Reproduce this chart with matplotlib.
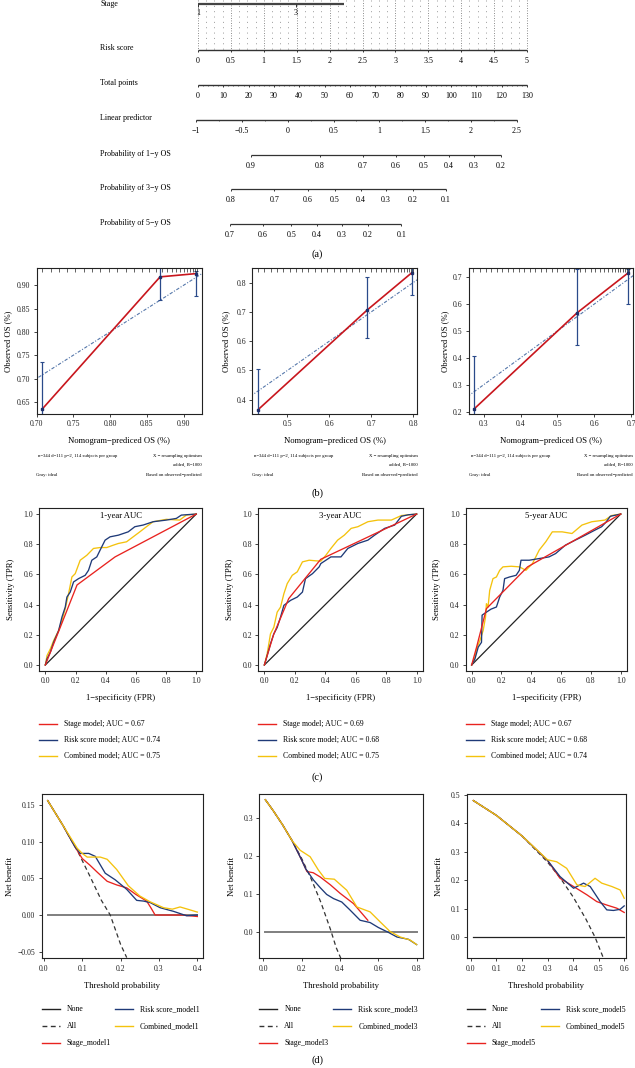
import numpy as np
import matplotlib
matplotlib.use('Agg')
import matplotlib.pyplot as plt
from matplotlib.lines import Line2D

plt.rcParams['font.family'] = ['Liberation Serif', 'DejaVu Serif']

W, H = 635, 1068

# ---------------- data ----------------
# (a) nomogram, positions on the total-points scale
stage_labels = ['1', '3']
stage_pts = [0, 38.7]
stage_end = 57.7
risk_ticks = [0, 0.5, 1, 1.5, 2, 2.5, 3, 3.5, 4, 4.5, 5]
risk_pts_per_unit = 26.0
total_ticks = [0, 10, 20, 30, 40, 50, 60, 70, 80, 90, 100, 110, 120, 130]
lp_ticks = [-1, -0.5, 0, 0.5, 1, 1.5, 2, 2.5]
lp_pts_range = (-0.8, 126.0)
prob1_ticks = [0.9, 0.8, 0.7, 0.6, 0.5, 0.4, 0.3, 0.2]
prob1_pts = [20.9, 48.2, 65.2, 78.2, 89.3, 99.2, 109.1, 119.7]
prob3_ticks = [0.8, 0.7, 0.6, 0.5, 0.4, 0.3, 0.2, 0.1]
prob3_pts = [13.0, 30.2, 43.5, 54.1, 64.4, 74.3, 84.8, 98.0]
prob5_ticks = [0.7, 0.6, 0.5, 0.4, 0.3, 0.2, 0.1]
prob5_pts = [12.6, 25.7, 36.9, 46.9, 56.9, 67.2, 80.4]

# (b) calibration
cal_pred = [[0.708, 0.868, 0.917], [0.43, 0.69, 0.797], [0.274, 0.553, 0.691]]
cal_obs = [[0.635, 0.918, 0.925], [0.366, 0.706, 0.834], [0.21, 0.567, 0.715]]
cal_lo = [[0.62, 0.868, 0.877], [0.34, 0.61, 0.757], [0.185, 0.447, 0.60]]
cal_hi = [[0.736, 0.95, 0.93], [0.505, 0.82, 0.86], [0.408, 0.73, 0.73]]
rug1 = [0.708, 0.72, 0.731, 0.742, 0.753, 0.764, 0.776, 0.787, 0.798, 0.81, 0.821,
        0.832, 0.843, 0.853, 0.862, 0.87, 0.877, 0.884, 0.89, 0.895, 0.9, 0.905,
        0.909, 0.913, 0.916, 0.918]
rug2 = [0.43, 0.445, 0.46, 0.475, 0.49, 0.505, 0.52, 0.535, 0.55, 0.565, 0.58, 0.595,
        0.61, 0.625, 0.64, 0.655, 0.67, 0.685, 0.7, 0.712, 0.724, 0.735, 0.745, 0.755,
        0.763, 0.771, 0.778, 0.785, 0.79, 0.795, 0.8]
rug3 = [0.272, 0.29, 0.305, 0.32, 0.335, 0.35, 0.365, 0.38, 0.395, 0.41, 0.425, 0.44,
        0.455, 0.47, 0.485, 0.5, 0.515, 0.53, 0.545, 0.56, 0.575, 0.59, 0.603, 0.615,
        0.626, 0.637, 0.647, 0.656, 0.664, 0.671, 0.678, 0.684, 0.689, 0.694]

# (c) ROC
roc_titles = ['1-year AUC', '3-year AUC', '5-year AUC']
auc_values = [[0.67, 0.74, 0.75], [0.69, 0.68, 0.75], [0.67, 0.68, 0.74]]
model_names = ['Stage model', 'Risk score model', 'Combined model']

stage1_fpr = [0, 0.21, 0.462, 1]
stage1_tpr = [0, 0.53, 0.716, 1]
risk1_fpr = [0, 0.011, 0.033, 0.055, 0.088, 0.11, 0.132, 0.143, 0.165, 0.187, 0.22, 0.242,
             0.264, 0.286, 0.308, 0.341, 0.363, 0.396, 0.429, 0.484, 0.549, 0.593, 0.648,
             0.714, 0.802, 0.868, 0.901, 1]
risk1_tpr = [0, 0.04, 0.084, 0.151, 0.228, 0.317, 0.384, 0.45, 0.483, 0.55, 0.572, 0.583,
             0.594, 0.627, 0.694, 0.716, 0.761, 0.827, 0.849, 0.86, 0.882, 0.916, 0.927,
             0.949, 0.96, 0.971, 0.993, 1]
comb1_fpr = [0, 0.011, 0.033, 0.055, 0.088, 0.11, 0.132, 0.154, 0.176, 0.198, 0.231, 0.275,
             0.319, 0.363, 0.407, 0.451, 0.484, 0.538, 0.582, 0.626, 0.67, 0.714, 0.802,
             0.89, 0.934, 1]
comb1_tpr = [0, 0.062, 0.106, 0.162, 0.228, 0.295, 0.373, 0.472, 0.583, 0.605, 0.694, 0.727,
             0.772, 0.778, 0.778, 0.794, 0.805, 0.816, 0.849, 0.882, 0.916, 0.949, 0.965,
             0.96, 0.993, 1]

stage3_fpr = [0, 0.06, 0.16, 0.37, 1]
stage3_tpr = [0, 0.2, 0.44, 0.7, 1]
risk3_fpr = [0, 0.018, 0.04, 0.062, 0.084, 0.106, 0.128, 0.172, 0.216, 0.25, 0.27, 0.316,
             0.36, 0.371, 0.437, 0.503, 0.548, 0.614, 0.68, 0.724, 0.79, 0.856, 0.9, 0.945, 1]
risk3_tpr = [0, 0.062, 0.14, 0.206, 0.248, 0.317, 0.395, 0.428, 0.45, 0.483, 0.572, 0.605,
             0.65, 0.672, 0.716, 0.716, 0.772, 0.805, 0.827, 0.86, 0.905, 0.927, 0.985, 0.995, 1]
comb3_fpr = [0, 0.018, 0.04, 0.062, 0.084, 0.106, 0.128, 0.15, 0.183, 0.216, 0.25, 0.294,
             0.338, 0.371, 0.404, 0.437, 0.481, 0.525, 0.57, 0.614, 0.68, 0.746, 0.834, 0.9, 1]
comb3_tpr = [0, 0.073, 0.206, 0.25, 0.35, 0.383, 0.472, 0.539, 0.594, 0.617, 0.683, 0.694,
             0.69, 0.688, 0.727, 0.772, 0.827, 0.86, 0.905, 0.916, 0.949, 0.96, 0.96, 0.99, 1]

stage5_fpr = [0, 0.033, 0.099, 0.375, 1]
stage5_tpr = [0, 0.118, 0.373, 0.65, 1]
risk5_fpr = [0, 0.022, 0.044, 0.066, 0.07, 0.099, 0.13, 0.166, 0.188, 0.21, 0.221, 0.254,
             0.298, 0.32, 0.331, 0.386, 0.453, 0.519, 0.563, 0.629, 0.695, 0.762, 0.828,
             0.872, 0.9, 0.93, 1]
risk5_tpr = [0, 0.04, 0.118, 0.15, 0.33, 0.35, 0.37, 0.384, 0.45, 0.494, 0.572, 0.583,
             0.594, 0.627, 0.694, 0.694, 0.705, 0.716, 0.738, 0.794, 0.827, 0.86, 0.894,
             0.916, 0.945, 0.985, 1]
comb5_fpr = [0, 0.022, 0.033, 0.055, 0.077, 0.093, 0.099, 0.11, 0.121, 0.143, 0.166, 0.188,
             0.21, 0.265, 0.32, 0.364, 0.408, 0.453, 0.497, 0.541, 0.607, 0.673, 0.74, 0.806,
             0.894, 0.938, 1]
comb5_tpr = [0, 0.051, 0.106, 0.162, 0.228, 0.317, 0.406, 0.384, 0.494, 0.572, 0.583, 0.627,
             0.65, 0.654, 0.65, 0.627, 0.672, 0.761, 0.816, 0.882, 0.882, 0.871, 0.927, 0.949,
             0.96, 0.99, 1]

# (d) decision curves
dca_thr_max = [0.4, 0.8, 0.6]
all1_x = [0.01, 0.05, 0.09, 0.12, 0.15, 0.173, 0.2, 0.216]
all1_y = [0.156, 0.122, 0.085, 0.053, 0.02, 0.0, -0.04, -0.058]
stage1_x = [0.01, 0.05, 0.08, 0.1, 0.12, 0.14, 0.165, 0.19, 0.216, 0.24, 0.268, 0.28, 0.29, 0.32, 0.36, 0.4]
stage1_y = [0.156, 0.122, 0.094, 0.077, 0.068, 0.058, 0.046, 0.041, 0.037, 0.028, 0.019, 0.009, 0.0, 0.0, 0.0, -0.002]
riskd1_x = [0.01, 0.05, 0.08, 0.095, 0.117, 0.134, 0.16, 0.186, 0.216, 0.242, 0.26, 0.277, 0.303, 0.338, 0.372, 0.4]
riskd1_y = [0.156, 0.122, 0.094, 0.084, 0.084, 0.08, 0.057, 0.048, 0.035, 0.02, 0.019, 0.017, 0.01, 0.005, -0.001, 0.0]
combd1_x = [0.01, 0.05, 0.087, 0.1, 0.113, 0.13, 0.147, 0.165, 0.19, 0.22, 0.25, 0.277, 0.312, 0.335, 0.355, 0.381, 0.4]
combd1_y = [0.156, 0.122, 0.091, 0.084, 0.079, 0.079, 0.079, 0.076, 0.062, 0.04, 0.026, 0.018, 0.01, 0.008, 0.011, 0.007, 0.004]

all3_x = [0.01, 0.05, 0.1, 0.15, 0.2, 0.25, 0.3, 0.35, 0.38, 0.404]
all3_y = [0.349, 0.321, 0.283, 0.241, 0.194, 0.14, 0.079, 0.008, -0.04, -0.068]
stage3_x = [0.01, 0.05, 0.1, 0.15, 0.2, 0.227, 0.26, 0.296, 0.35, 0.4, 0.47, 0.545]
stage3_y = [0.349, 0.321, 0.283, 0.241, 0.19, 0.16, 0.157, 0.146, 0.125, 0.103, 0.076, 0.032]
riskd3_x = [0.01, 0.05, 0.1, 0.15, 0.2, 0.22, 0.261, 0.296, 0.33, 0.366, 0.409, 0.45, 0.505,
            0.557, 0.6, 0.653, 0.697, 0.757, 0.8]
riskd3_y = [0.349, 0.321, 0.283, 0.241, 0.19, 0.168, 0.138, 0.118, 0.1, 0.089, 0.08, 0.06,
            0.032, 0.026, 0.013, 0.0, -0.012, -0.018, -0.032]
combd3_x = [0.01, 0.05, 0.1, 0.15, 0.192, 0.244, 0.287, 0.32, 0.37, 0.435, 0.488, 0.557,
            0.609, 0.662, 0.714, 0.766, 0.8]
combd3_y = [0.349, 0.321, 0.283, 0.241, 0.216, 0.199, 0.164, 0.142, 0.14, 0.111, 0.067,
            0.054, 0.028, 0.002, -0.012, -0.02, -0.032]

all5_x = [0.01, 0.1, 0.2, 0.3, 0.35, 0.4, 0.45, 0.486, 0.519]
all5_y = [0.48, 0.428, 0.356, 0.264, 0.208, 0.142, 0.064, 0.0, -0.074]
stage5_x = [0.01, 0.1, 0.2, 0.3, 0.349, 0.402, 0.454, 0.493, 0.532, 0.571, 0.6]
stage5_y = [0.48, 0.428, 0.356, 0.27, 0.207, 0.178, 0.149, 0.125, 0.113, 0.102, 0.087]
riskd5_x = [0.01, 0.1, 0.2, 0.3, 0.349, 0.402, 0.441, 0.467, 0.506, 0.532, 0.558, 0.584, 0.6]
riskd5_y = [0.48, 0.428, 0.356, 0.27, 0.213, 0.172, 0.19, 0.178, 0.125, 0.096, 0.094, 0.098, 0.11]
combd5_x = [0.01, 0.1, 0.2, 0.3, 0.336, 0.375, 0.415, 0.447, 0.486, 0.512, 0.552, 0.584, 0.6]
combd5_y = [0.48, 0.428, 0.356, 0.272, 0.265, 0.242, 0.184, 0.178, 0.207, 0.19, 0.178, 0.166, 0.137]

RED = '#e8231f'
BLUE = '#1f3a78'
YEL = '#f4c20d'
AXC = '#333333'

fig = plt.figure(figsize=(W / 100, H / 100), dpi=100)


def box(l, r, t, b):
    return [l / W, 1 - b / H, (r - l) / W, (b - t) / H]


def ftext(x, y, s, **kw):
    fig.text(x / W, 1 - y / H, s, **kw)


def fline(x0, x1, y, **kw):
    fig.add_artist(Line2D([x0 / W, x1 / W], [1 - y / H, 1 - y / H],
                          transform=fig.transFigure, **kw))


def fmt(v):
    return ('%g' % v).replace('-', '\u2212')


# ---------------- (a) nomogram ----------------
def px2pts(px):
    return (px - 198) * 130 / 329


ax0 = fig.add_axes([0, 1 - 245 / H, 1, 245 / H])
ax0.set_xlim(px2pts(0), px2pts(635))
ax0.set_ylim(245, 0)
ax0.axis('off')

for v in np.arange(0, 5.001, 0.125):
    strong = abs(v * 2 - round(v * 2)) < 1e-6
    ax0.vlines(v * risk_pts_per_unit, 0, 50, color='#666666' if strong else '#9a9a9a',
               lw=0.6 if strong else 0.7, linestyle=(0, (1, 2)) if strong else (0, (1, 4.5)))

lab_x = px2pts(100)
fs_n = 5.8


def scale_row(y, pts, labels, minor=None, lw=1.0):
    ax0.plot([min(pts), max(pts)], [y, y], color=AXC, lw=lw, solid_capstyle='butt')
    ax0.vlines(pts, y, y + 2.2, color=AXC, lw=0.7)
    if minor is not None:
        ax0.vlines(minor, y, y + 1.4, color=AXC, lw=0.5)
    for p, l in zip(pts, labels):
        ax0.text(p, y + 11, l, ha='center', va='center', fontsize=fs_n)


# stage
ax0.plot([0, stage_end], [3.5, 3.5], color='#444444', lw=1.6, solid_capstyle='butt')
ax0.vlines(stage_pts, 3.5, 6.5, color=AXC, lw=0.7)
for p, l in zip(stage_pts, stage_labels):
    ax0.text(p, 13, l, ha='center', va='center', fontsize=fs_n)
ax0.text(lab_x, 4, 'Stage', ha='left', va='center', fontsize=fs_n)

risk_pts = [v * risk_pts_per_unit for v in risk_ticks]
scale_row(50, risk_pts, [fmt(v) for v in risk_ticks])
ax0.text(lab_x, 48, 'Risk score', ha='left', va='center', fontsize=fs_n)

scale_row(85, total_ticks, [fmt(v) for v in total_ticks], minor=np.arange(0, 130.1, 2))
ax0.text(lab_x, 83, 'Total points', ha='left', va='center', fontsize=fs_n)

lo, hi = lp_pts_range
lp_pts = [lo + (v - lp_ticks[0]) * (hi - lo) / (lp_ticks[-1] - lp_ticks[0]) for v in lp_ticks]
lp_minor = [lo + (v + 1) * (hi - lo) / 3.5 for v in np.arange(-1, 2.51, 0.25)]
scale_row(120, lp_pts, [fmt(v) for v in lp_ticks], minor=lp_minor)
ax0.text(lab_x, 118, 'Linear predictor', ha='left', va='center', fontsize=fs_n)

scale_row(155, prob1_pts, [fmt(v) for v in prob1_ticks], lw=0.9)
ax0.text(lab_x, 154, 'Probability of 1\u2212y OS', ha='left', va='center', fontsize=fs_n)
scale_row(189, prob3_pts, [fmt(v) for v in prob3_ticks], lw=0.9)
ax0.text(lab_x, 188, 'Probability of 3\u2212y OS', ha='left', va='center', fontsize=fs_n)
scale_row(224, prob5_pts, [fmt(v) for v in prob5_ticks], lw=0.9)
ax0.text(lab_x, 223, 'Probability of 5\u2212y OS', ha='left', va='center', fontsize=fs_n)

ftext(317, 254, '(a)', ha='center', va='center', fontsize=7.5)


def style(ax, fs=5.6):
    for s in ax.spines.values():
        s.set_linewidth(0.8)
        s.set_color('#222222')
    ax.tick_params(direction='out', length=2.5, width=0.6, labelsize=fs, pad=2,
                   colors='#222222')


# ---------------- (b) calibration ----------------
cal_boxes = [(36.5, 202, 268, 414), (252.3, 417.3, 268, 414), (469, 633, 268, 414)]
cal_xlim = [(0.70, 0.925), (0.416, 0.81), (0.26, 0.705)]
cal_ylim = [(0.624, 0.937), (0.351, 0.85), (0.191, 0.734)]
cal_xt = [np.arange(0.70, 0.91, 0.05), [0.5, 0.6, 0.7, 0.8], [0.3, 0.4, 0.5, 0.6, 0.7]]
cal_yt = [np.arange(0.65, 0.91, 0.05), [0.4, 0.5, 0.6, 0.7, 0.8], [0.2, 0.3, 0.4, 0.5, 0.6, 0.7]]
cal_fmt = ['%.2f', '%.1f', '%.1f']
rugs = [rug1, rug2, rug3]
cal_ylab_x = [8, 226, 445]

for i in range(3):
    l, r, t, b = cal_boxes[i]
    ax = fig.add_axes(box(l, r, t, b))
    ax.plot([0, 1], [0, 1], color='#5577aa', lw=0.8, linestyle=(0, (3, 1.5, 1, 1.5)))
    ax.plot(cal_pred[i], cal_obs[i], color='#c8161d', lw=1.2)
    ax.vlines(cal_pred[i], cal_lo[i], cal_hi[i], color='#2a4a8a', lw=0.9)
    for x, lo_, hi_ in zip(cal_pred[i], cal_lo[i], cal_hi[i]):
        ax.plot([x], [lo_], marker='_', ms=3, color='#2a4a8a', mew=0.8)
        ax.plot([x], [hi_], marker='_', ms=3, color='#2a4a8a', mew=0.8)
    ax.plot(cal_pred[i], cal_obs[i], 's', ms=1.8, color='#1f2f6a')
    ax.vlines(rugs[i], 0.97, 1.0, color='#222222', lw=0.5, transform=ax.get_xaxis_transform())
    ax.set_xlim(cal_xlim[i])
    ax.set_ylim(cal_ylim[i])
    ax.set_xticks(cal_xt[i])
    ax.set_yticks(cal_yt[i])
    ax.set_xticklabels([cal_fmt[i] % v for v in cal_xt[i]])
    ax.set_yticklabels([cal_fmt[i] % v for v in cal_yt[i]])
    style(ax)
    ftext((l + r) / 2, 441, 'Nomogram\u2212prediced OS (%)', ha='center', va='center', fontsize=6.2)
    ftext(cal_ylab_x[i], (t + b) / 2, 'Observed OS (%)', ha='center', va='center',
          rotation=90, fontsize=6.2)
    ftext(l + 2, 456, 'n=344 d=111 p=2, 114 subjects per group', ha='left', va='center', fontsize=3.4)
    ftext(r, 456, 'X \u2212 resampling optimism', ha='right', va='center', fontsize=3.4)
    ftext(r, 464.5, 'added, B=1000', ha='right', va='center', fontsize=3.4)
    ftext(l, 475, 'Gray: ideal', ha='left', va='center', fontsize=3.4)
    ftext(r, 475, 'Based on observed\u2212predicted', ha='right', va='center', fontsize=3.4)

ftext(317, 493, '(b)', ha='center', va='center', fontsize=7.5)

# ---------------- (c) ROC ----------------
roc_boxes = [(39.3, 202.3, 508, 671), (258.3, 422.7, 508, 671), (465.7, 626.7, 508, 671)]
roc_data = [[(stage1_fpr, stage1_tpr), (risk1_fpr, risk1_tpr), (comb1_fpr, comb1_tpr)],
            [(stage3_fpr, stage3_tpr), (risk3_fpr, risk3_tpr), (comb3_fpr, comb3_tpr)],
            [(stage5_fpr, stage5_tpr), (risk5_fpr, risk5_tpr), (comb5_fpr, comb5_tpr)]]
roc_ylab_x = [11, 230, 437]
colors = [RED, BLUE, YEL]

for i in range(3):
    l, r, t, b = roc_boxes[i]
    ax = fig.add_axes(box(l, r, t, b))
    ax.plot([0, 1], [0, 1], color='#222222', lw=0.9)
    for k in (2, 1, 0):
        fpr, tpr = roc_data[i][k]
        ax.plot(fpr, tpr, color=colors[k], lw=0.95)
    ax.set_xlim(-0.04, 1.04)
    ax.set_ylim(-0.04, 1.04)
    ticks = [0, 0.2, 0.4, 0.6, 0.8, 1.0]
    ax.set_xticks(ticks)
    ax.set_yticks(ticks)
    ax.set_xticklabels(['%.1f' % v for v in ticks])
    ax.set_yticklabels(['%.1f' % v for v in ticks])
    style(ax)
    ax.text(0.5, 0.985, roc_titles[i], ha='center', va='center', fontsize=6.2)
    ftext((l + r) / 2, 698, '1\u2212specificity (FPR)', ha='center', va='center', fontsize=6.2)
    ftext(roc_ylab_x[i], (t + b) / 2, 'Sensitivity (TPR)', ha='center', va='center',
          rotation=90, fontsize=6.2)
    for k in range(3):
        yy = 723.5 + k * 16.3
        fline(l, l + 18, yy, color=colors[k], lw=1.0)
        ftext(l + 25, yy, '%s; AUC = %.2f' % (model_names[k], auc_values[i][k]),
              ha='left', va='center', fontsize=5.6)

ftext(317, 777, '(c)', ha='center', va='center', fontsize=7.5)

# ---------------- (d) decision curves ----------------
dca_boxes = [(41.7, 203.3, 794, 958.3), (259.3, 422.7, 794, 958.3), (466.7, 626, 794, 958.3)]
dca_xlim = [(-0.0056, 0.4156), (-0.0216, 0.8316), (-0.016, 0.607)]
dca_ylim = [(-0.059, 0.165), (-0.068, 0.364), (-0.074, 0.503)]
dca_xt = [[0, 0.1, 0.2, 0.3, 0.4], [0, 0.2, 0.4, 0.6, 0.8], [0, 0.1, 0.2, 0.3, 0.4, 0.5, 0.6]]
dca_yt = [[-0.05, 0, 0.05, 0.1, 0.15], [0, 0.1, 0.2, 0.3], [0, 0.1, 0.2, 0.3, 0.4, 0.5]]
dca_yfmt = ['%.2f', '%.1f', '%.1f']
dca_all = [(all1_x, all1_y), (all3_x, all3_y), (all5_x, all5_y)]
dca_models = [[(stage1_x, stage1_y), (riskd1_x, riskd1_y), (combd1_x, combd1_y)],
              [(stage3_x, stage3_y), (riskd3_x, riskd3_y), (combd3_x, combd3_y)],
              [(stage5_x, stage5_y), (riskd5_x, riskd5_y), (combd5_x, combd5_y)]]
none_color = ['#7f7f7f', '#7f7f7f', '#222222']
none_lw = [1.4, 1.4, 0.9]
dca_suffix = ['1', '3', '5']
dca_ylab_x = [10, 232, 439]

for i in range(3):
    l, r, t, b = dca_boxes[i]
    ax = fig.add_axes(box(l, r, t, b))
    ax.plot([0.01, dca_thr_max[i]], [0, 0], color=none_color[i], lw=none_lw[i])
    ax.plot(*dca_all[i], color='#333333', lw=0.9, linestyle=(0, (3.5, 2.5)))
    for k in (0, 1, 2):
        ax.plot(*dca_models[i][k], color=colors[k], lw=0.95)
    ax.set_xlim(dca_xlim[i])
    ax.set_ylim(dca_ylim[i])
    ax.set_xticks(dca_xt[i])
    ax.set_yticks(dca_yt[i])
    ax.set_xticklabels(['%.1f' % v for v in dca_xt[i]])
    ax.set_yticklabels([(dca_yfmt[i] % v).replace('-', '\u2212') for v in dca_yt[i]])
    style(ax)
    ftext((l + r) / 2, 986, 'Threshold probability', ha='center', va='center', fontsize=6.2)
    ftext(dca_ylab_x[i], (t + b) / 2, 'Net benefit', ha='center', va='center',
          rotation=90, fontsize=6.2)
    s = dca_suffix[i]
    col1 = [('None', '#222222', '-'), ('All', '#333333', (0, (3.5, 2.5))),
            ('Stage_model' + s, RED, '-')]
    col2 = [('Risk score_model' + s, BLUE, '-'), ('Combined_model' + s, YEL, '-')]
    c2x = l + 73 if i == 0 else l + 74
    for k, (lab, c, ls) in enumerate(col1):
        yy = 1009.3 + k * 17
        fline(l, l + 18, yy, color=c, lw=1.0, linestyle=ls)
        ftext(l + 25, yy, lab, ha='left', va='center', fontsize=5.6)
    for k, (lab, c, ls) in enumerate(col2):
        yy = 1009.3 + k * 17
        fline(c2x, c2x + 18, yy, color=c, lw=1.0, linestyle=ls)
        ftext(c2x + 25, yy, lab, ha='left', va='center', fontsize=5.6)

ftext(317, 1060, '(d)', ha='center', va='center', fontsize=7.5)

fig.savefig('out.png', dpi=100)
